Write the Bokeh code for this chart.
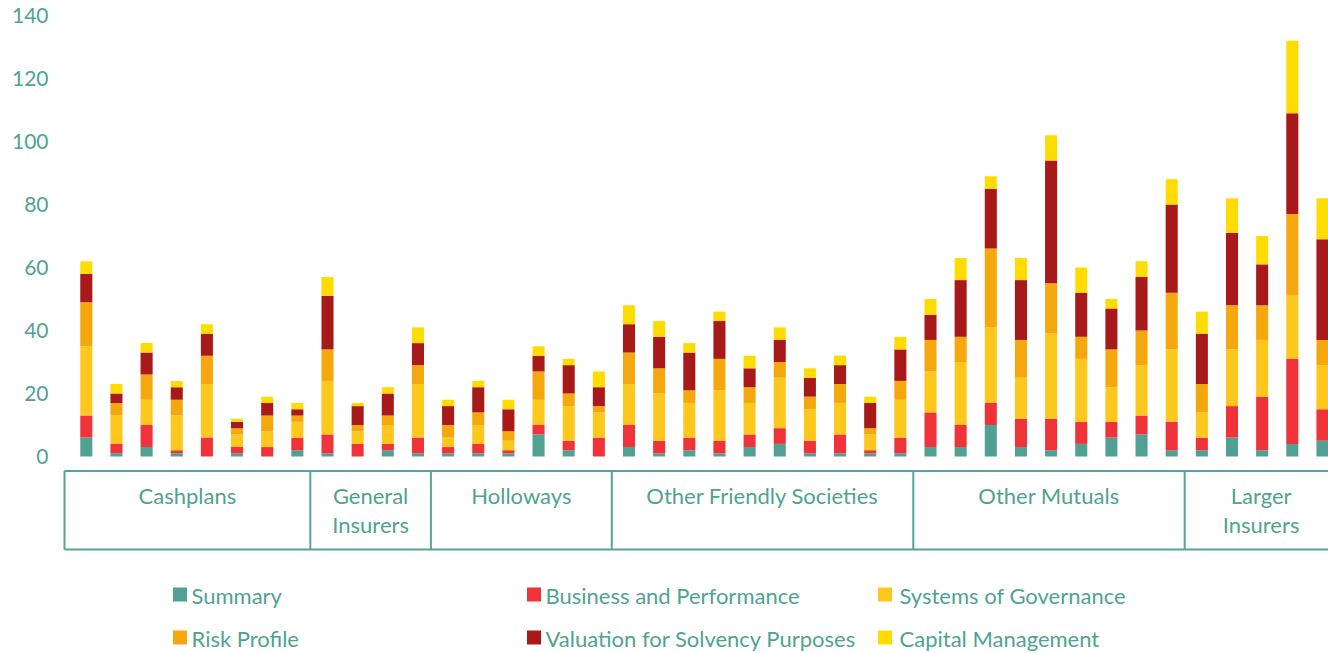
from bokeh.plotting import figure
from bokeh.models import ColumnDataSource, Range1d, FixedTicker
from bokeh.core.properties import value
from bokeh.embed import file_html
from bokeh.resources import INLINE

# ---------------- data ----------------
groups = ["Cashplans", "General\nInsurers", "Holloways", "Other Friendly Societies",
          "Other Mutuals", "Larger\nInsurers"]
group_sizes = [8, 4, 6, 10, 9, 5]

series_names = ["Summary", "Business and Performance", "Systems of Governance",
                "Risk Profile", "Valuation for Solvency Purposes", "Capital Management"]

summary = [6, 1, 3, 1, 0, 1, 0, 2,
           1, 0, 2, 1,
           1, 1, 1, 7, 2, 0,
           3, 1, 2, 1, 3, 4, 1, 1, 1, 1,
           3, 3, 10, 3, 2, 4, 6, 7, 2,
           2, 6, 2, 4, 5]
business = [7, 3, 7, 1, 6, 2, 3, 4,
            6, 4, 2, 5,
            2, 3, 1, 3, 3, 6,
            7, 4, 4, 4, 4, 5, 4, 6, 1, 5,
            11, 7, 7, 9, 10, 7, 5, 6, 9,
            4, 10, 17, 27, 10]
governance = [22, 9, 8, 11, 17, 4, 5, 5,
              17, 4, 6, 17,
              3, 6, 3, 8, 11, 8,
              13, 15, 11, 16, 10, 16, 10, 10, 5, 12,
              13, 20, 24, 13, 27, 20, 11, 16, 23,
              8, 18, 18, 20, 14]
risk = [14, 4, 8, 5, 9, 2, 5, 2,
        10, 2, 3, 6,
        4, 4, 3, 9, 4, 2,
        10, 8, 4, 10, 5, 5, 4, 6, 2, 6,
        10, 8, 25, 12, 16, 7, 12, 11, 18,
        9, 14, 11, 26, 8]
valuation = [9, 3, 7, 4, 7, 2, 4, 2,
             17, 6, 7, 7,
             6, 8, 7, 5, 9, 6,
             9, 10, 12, 12, 6, 7, 6, 6, 8, 10,
             8, 18, 19, 19, 39, 14, 13, 17, 28,
             16, 23, 13, 32, 32]
capital = [4, 3, 3, 2, 3, 1, 2, 2,
           6, 1, 2, 5,
           2, 2, 3, 3, 2, 5,
           6, 5, 3, 3, 4, 4, 3, 3, 2, 4,
           5, 7, 4, 7, 8, 8, 3, 5, 8,
           7, 11, 9, 23, 13]

y_ticks = [0, 20, 40, 60, 80, 100, 120, 140]

# ---------------- style ----------------
FONT = "Lato"
FS = "22px"
TICK_FS = "21px"
TEXT_COL = "#4FA392"
LINE_COL = "#55A596"
colors = ["#50A193", "#EF3338", "#FDC71C", "#F5A70E", "#A8191A", "#FFDC00"]

W, H = 1328, 653
FRAME_LEFT = 60

# pixel <-> data helpers (layout only)
XPX_PER = 30.15
X_START = -(85.8 - FRAME_LEFT) / XPX_PER
def xd(px):
    return X_START + (px - FRAME_LEFT) / XPX_PER
def yd(py):
    return (456 - py) / 3.15

n = sum(group_sizes)
keys = ["summary", "business", "governance", "risk", "valuation", "capital"]
src = ColumnDataSource(dict(x=list(range(n)), summary=summary, business=business,
                            governance=governance, risk=risk, valuation=valuation,
                            capital=capital))

p = figure(width=W, height=H,
           x_range=Range1d(xd(FRAME_LEFT), xd(W)), y_range=Range1d(yd(H), yd(0)),
           output_backend="svg", toolbar_location=None, x_axis_type=None,
           min_border_left=FRAME_LEFT, min_border_right=0, min_border_top=0,
           min_border_bottom=0)
p.outline_line_color = None
p.grid.visible = False
p.background_fill_color = "white"
p.border_fill_color = "white"

p.vbar_stack(keys, x="x", width=0.4, source=src, fill_color=colors, line_color=None)

ax = p.yaxis[0]
ax.ticker = FixedTicker(ticks=y_ticks)
ax.axis_line_color = None
ax.major_tick_line_color = None
ax.minor_tick_line_color = None
ax.major_tick_out = 0
ax.major_label_standoff = 12
ax.major_label_text_font = FONT
ax.major_label_text_font_size = TICK_FS
ax.major_label_text_color = TEXT_COL

# ---------------- category box ----------------
bounds = [0]
for s in group_sizes:
    bounds.append(bounds[-1] + s)
edges = [xd(64)] + [b - 0.57 for b in bounds[1:-1]] + [bounds[-1] - 0.5]
box_top, box_bot = yd(470.5), yd(549)
p.segment(x0=[edges[0], edges[0]], x1=[edges[-1] + 1, edges[-1] + 1],
          y0=[box_top, box_bot], y1=[box_top, box_bot], line_color=LINE_COL, line_width=2)
p.segment(x0=edges[:-1], x1=edges[:-1], y0=[box_top] * (len(edges) - 1),
          y1=[box_bot] * (len(edges) - 1), line_color=LINE_COL, line_width=2)

lx, ly, lt = [], [], []
for i, g in enumerate(groups):
    mid = (edges[i] + edges[i + 1]) / 2
    for j, line in enumerate(g.split("\n")):
        lx.append(mid)
        ly.append(yd(495 + 29 * j))
        lt.append(line)
p.text(x=lx, y=ly, text=lt, text_font=value(FONT), text_font_size=FS,
       text_color=TEXT_COL, text_align="center", text_baseline="middle")

# ---------------- legend ----------------
sq_px = [179.5, 533.5, 884.5]
tx_px = [191, 545, 899]
row_py = [595, 638]
sx, sy, tx, ty = [], [], [], []
for k, name in enumerate(series_names):
    r, c = divmod(k, 3)
    sx.append(xd(sq_px[c])); sy.append(yd(row_py[r] - 1))
    tx.append(xd(tx_px[c])); ty.append(yd(row_py[r]))
p.scatter(x=sx, y=sy, marker="square", size=14, fill_color=colors, line_color=None)
p.text(x=tx, y=ty, text=series_names, text_font=value(FONT), text_font_size=FS,
       text_color=TEXT_COL, text_align="left", text_baseline="middle")

open("out.html", "w").write(file_html(p, INLINE))
